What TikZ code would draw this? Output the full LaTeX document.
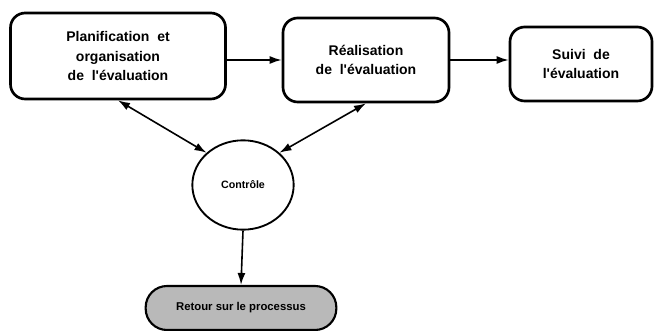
\documentclass[tikz,border=0pt]{standalone}
\usepackage{fontspec}
\setmainfont{Liberation Sans}
\usetikzlibrary{shapes.geometric,arrows.meta}

\tikzset{
	stepbox/.style={draw, line width=2pt, rounded corners=11pt, align=center,
		font=\fontsize{10.5}{14.6}\selectfont\bfseries, inner sep=0pt},
	link/.style={line width=1.2pt, -{Latex[length=9pt,width=6pt]}},
	twolink/.style={line width=1.2pt, {Latex[length=9pt,width=6pt]}-{Latex[length=9pt,width=6pt]}}
}

\begin{document}
\begin{tikzpicture}[x=0.75pt,y=-0.75pt]

	\useasboundingbox (0,0) rectangle (656,331);

	%the three steps, from left to right
	\foreach \name/\xpos/\ypos/\boxw/\boxh/\txt in {
		planBox/118/56/215/86/{Planification\ \ et\\organisation\\de\ \ l\textquotesingle évaluation},
		realBox/366/60/166/84/{Réalisation\\de\ \ l\textquotesingle évaluation},
		suiviBox/581/64/142/74/{Suivi\ \ de\\l\textquotesingle évaluation}}
   {
		\node [stepbox, minimum width=\boxw*0.75pt, minimum height=\boxh*0.75pt] (\name) at (\xpos,\ypos) {\txt};
   }

	%control, in the middle
	\node [draw, ellipse, line width=1.4pt, minimum width=76pt, minimum height=67pt,
		font=\fontsize{8}{9}\selectfont\bfseries] (controle) at (243,185) {Contrôle};

	%feedback, at the bottom
	\node [draw, line width=1.6pt, rounded corners=16pt, fill=gray!55,
		minimum width=143pt, minimum height=33pt,
		font=\fontsize{8.5}{10}\selectfont\bfseries] (retour) at (241,308) {Retour sur le processus};

	%Arrows
	\draw [link] (planBox.east |- realBox.west) -- (realBox.west);
	\draw [link] (realBox.east) -- (realBox.east -| suiviBox.west);
	\draw [twolink] (planBox.south) -- (controle.north west);
	\draw [twolink] (realBox.south) -- (controle.north east);
	\draw [link] (controle.south) -- (retour.north);

\end{tikzpicture}
\end{document}
